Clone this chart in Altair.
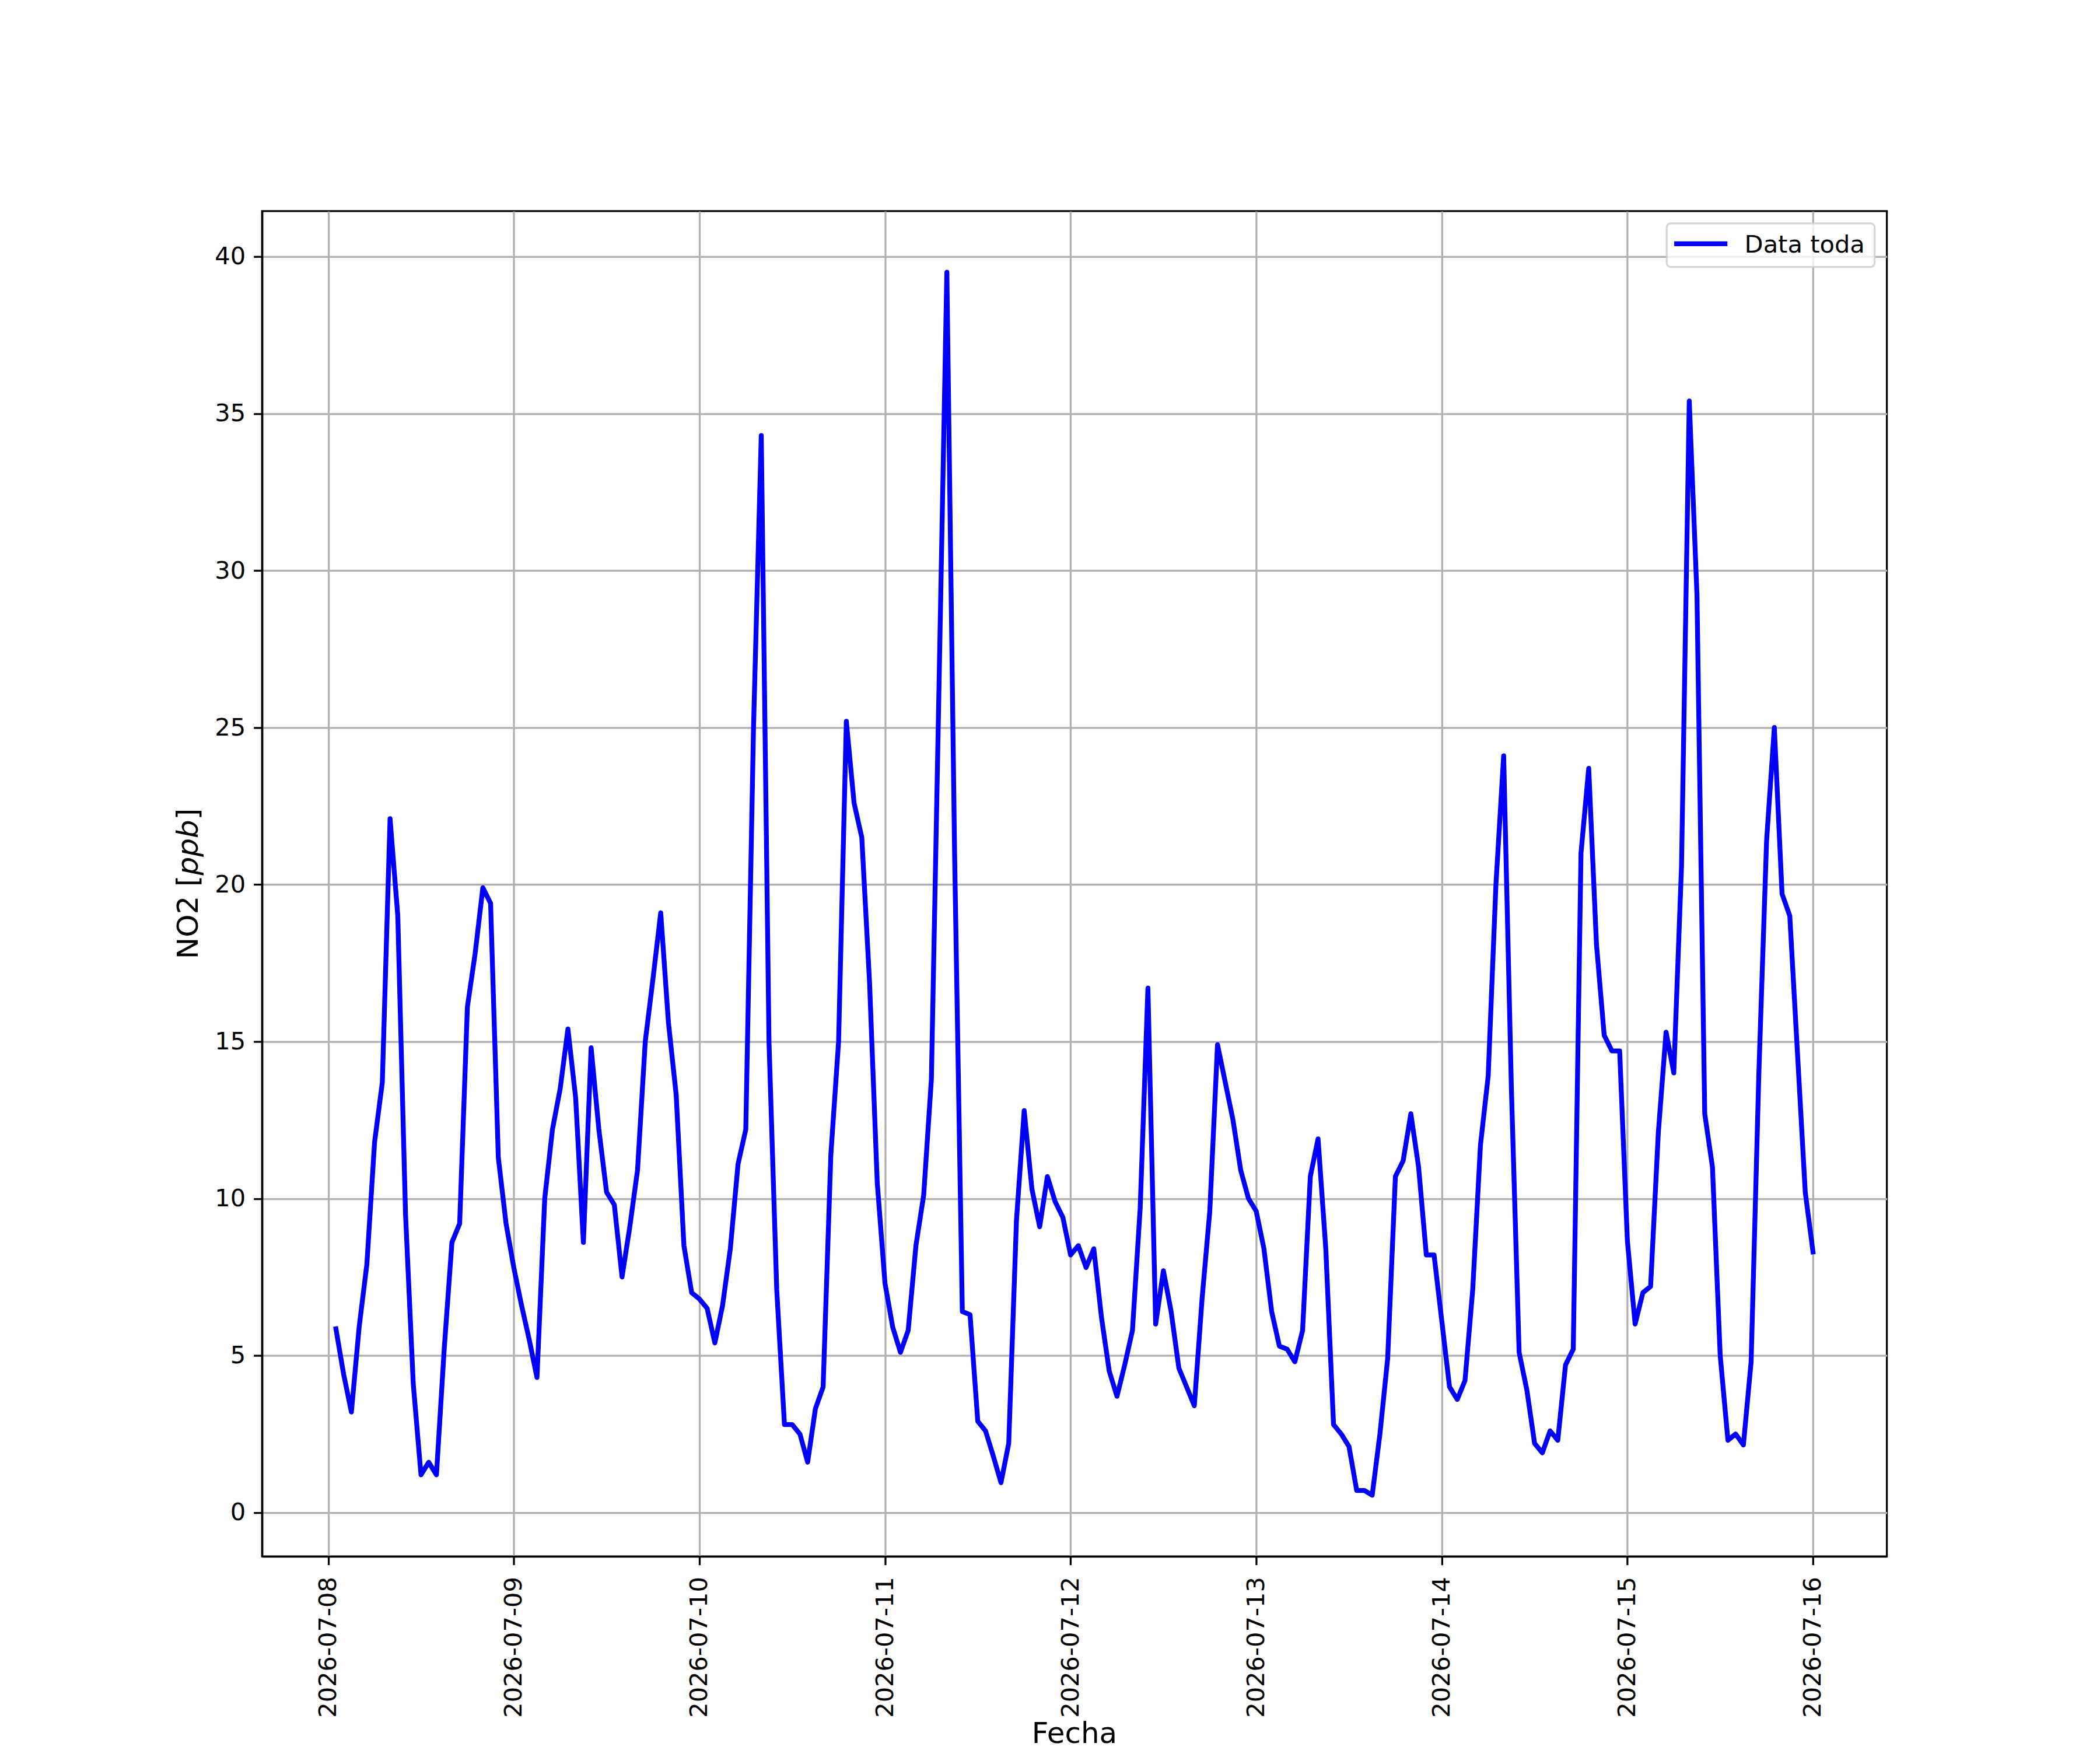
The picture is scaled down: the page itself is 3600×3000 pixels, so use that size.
import altair as alt
import pandas as pd

# Hourly NO2 values [ppb], one list per day
day_0708 = [5.85, 4.4, 3.2, 5.9, 7.9, 11.8, 13.7, 22.1, 19.0, 9.5, 4.1, 1.2, 1.6, 1.2,
            5.2, 8.6, 9.2, 16.1, 17.8, 19.9, 19.4, 11.3, 9.2]                      # 01h..23h
day_0709 = [7.8, 6.6, 5.5, 4.3, 10.0, 12.2, 13.5, 15.4, 13.2, 8.6, 14.8, 12.2, 10.2, 9.8,
            7.5, 9.1, 10.9, 15.0, 17.0, 19.1, 15.6, 13.3, 8.5, 7.0]
day_0710 = [6.8, 6.5, 5.4, 6.6, 8.4, 11.1, 12.2, 25.0, 34.3, 15.0, 7.1, 2.8, 2.8, 2.5,
            1.6, 3.3, 4.0, 11.4, 15.0, 25.2, 22.6, 21.5, 16.9, 10.5]
day_0711 = [7.3, 5.9, 5.1, 5.8, 8.5, 10.1, 13.8, 26.5, 39.5, 21.0, 6.4, 6.3, 2.9, 2.6,
            1.8, 0.95, 2.2, 9.3, 12.8, 10.3, 9.1, 10.7, 9.9, 9.4]
day_0712 = [8.2, 8.5, 7.8, 8.4, 6.2, 4.5, 3.7, 4.7, 5.8, 9.7, 16.7, 6.0, 7.7, 6.4,
            4.6, 4.0, 3.4, 6.8, 9.6, 14.9, 13.7, 12.5, 10.9, 10.0]
day_0713 = [9.6, 8.4, 6.4, 5.3, 5.2, 4.8, 5.8, 10.7, 11.9, 8.4, 2.8, 2.5, 2.1, 0.7,
            0.7, 0.55, 2.5, 4.9, 10.7, 11.2, 12.7, 11.0, 8.2, 8.2]
day_0714 = [6.1, 4.0, 3.6, 4.2, 7.1, 11.7, 13.9, 20.0, 24.1, 13.5, 5.1, 3.9, 2.2, 1.9,
            2.6, 2.3, 4.7, 5.2, 21.0, 23.7, 18.1, 15.2, 14.7, 14.7]
day_0715 = [8.65, 6.0, 7.0, 7.2, 12.1, 15.3, 14.0, 20.6, 35.4, 29.2, 12.7, 11.0, 5.0, 2.3,
            2.5, 2.15, 4.8, 14.0, 21.4, 25.0, 19.7, 19.0, 14.6, 10.2]
day_0716 = [8.3]                                                                   # 00h

first_time = "2026-07-08 01:00"
tick_dates = [8, 9, 10, 11, 12, 13, 14, 15, 16]   # July 2026
y_ticks = [0, 5, 10, 15, 20, 25, 30, 35, 40]
series_name = "Data toda"

values = day_0708 + day_0709 + day_0710 + day_0711 + day_0712 + day_0713 + day_0714 + day_0715 + day_0716
times = pd.date_range(first_time, periods=len(values), freq="h")
df = pd.DataFrame({"fecha": times.strftime("%Y-%m-%dT%H:%M:%S"), "no2": values, "serie": series_name})

# matplotlib-like 5 % margins
span = times[-1] - times[0]
tmin = times[0] - span * 0.05
tmax = times[-1] + span * 0.05


def dt(t):
    return alt.DateTime(year=t.year, month=t.month, date=t.day, hours=t.hour,
                        minutes=t.minute, seconds=t.second)


vmin, vmax = min(values), max(values)
ylo = vmin - 0.05 * (vmax - vmin)
yhi = vmax + 0.05 * (vmax - vmin)

FONT = "DejaVu Sans"
W, H = 2790, 2310
LW = 8.3

line = alt.Chart(df).mark_line(
    color="#0000ff", strokeWidth=LW, strokeJoin="round", strokeCap="square"
).encode(
    x=alt.X("fecha:T",
            scale=alt.Scale(domain=[dt(tmin), dt(tmax)], nice=False),
            axis=alt.Axis(title=None, values=[alt.DateTime(year=2026, month=7, date=d) for d in tick_dates],
                          format="%Y-%m-%d", labelAngle=270, labelPadding=20, labelLimit=500)),
    y=alt.Y("no2:Q",
            scale=alt.Scale(domain=[ylo, yhi], nice=False, zero=False),
            axis=alt.Axis(title=None, values=y_ticks, format="d", labelPadding=14)),
)

one = pd.DataFrame({"serie": [series_name]})

legend_box = alt.Chart(one).mark_rect(
    fill="white", fillOpacity=0.8, stroke="#cccccc", strokeOpacity=0.8, strokeWidth=3.3, cornerRadius=7
).encode(x=alt.value(2412), x2=alt.value(2769), y=alt.value(21), y2=alt.value(96))

legend_line = alt.Chart(one).mark_rule(color="#0000ff", strokeWidth=LW, strokeCap="square").encode(
    x=alt.value(2429), x2=alt.value(2512), y=alt.value(56))

legend_text = alt.Chart(one).mark_text(
    font=FONT, fontSize=41.67, align="left", baseline="alphabetic", color="black"
).encode(x=alt.value(2545.6), y=alt.value(71.7), text="serie:N")

ytitle_a = alt.Chart(one).mark_text(
    font=FONT, fontSize=50, angle=270, align="left", baseline="alphabetic", color="black"
).encode(x=alt.value(-110.5), y=alt.value(1284.4), text=alt.value("NO2 ["))
ytitle_b = alt.Chart(one).mark_text(
    font=FONT, fontSize=50, fontStyle="italic", angle=270, align="left", baseline="alphabetic", color="black"
).encode(x=alt.value(-110.5), y=alt.value(1284.4 - 2.879 * 50), text=alt.value("ppb"))
ytitle_c = alt.Chart(one).mark_text(
    font=FONT, fontSize=50, angle=270, align="left", baseline="alphabetic", color="black"
).encode(x=alt.value(-110.5), y=alt.value(1284.4 - 4.784 * 50), text=alt.value("]"))

xtitle = alt.Chart(one).mark_text(
    font=FONT, fontSize=50, align="center", baseline="alphabetic", color="black"
).encode(x=alt.value(W / 2), y=alt.value(2630), text=alt.value("Fecha"))

chart = alt.layer(
    line, legend_box, legend_line, legend_text, ytitle_a, ytitle_b, ytitle_c, xtitle
).properties(
    width=W, height=H,
    autosize=alt.AutoSizeParams(type="none"),
    padding={"left": 442, "top": 352, "right": 358, "bottom": 330},
    background="white",
).configure_view(
    stroke="black", strokeWidth=3.3
).configure_axis(
    labelFont=FONT, labelFontSize=41.67, labelColor="black",
    tickColor="black", tickWidth=3.3, tickSize=14.6,
    domainColor="black", domainWidth=3.3,
    grid=True, gridColor="#b0b0b0", gridWidth=3.3,
    labelOverlap=False, labelFlush=False,
)

chart.save("out.html", embed_options={"renderer": "svg", "actions": False})
